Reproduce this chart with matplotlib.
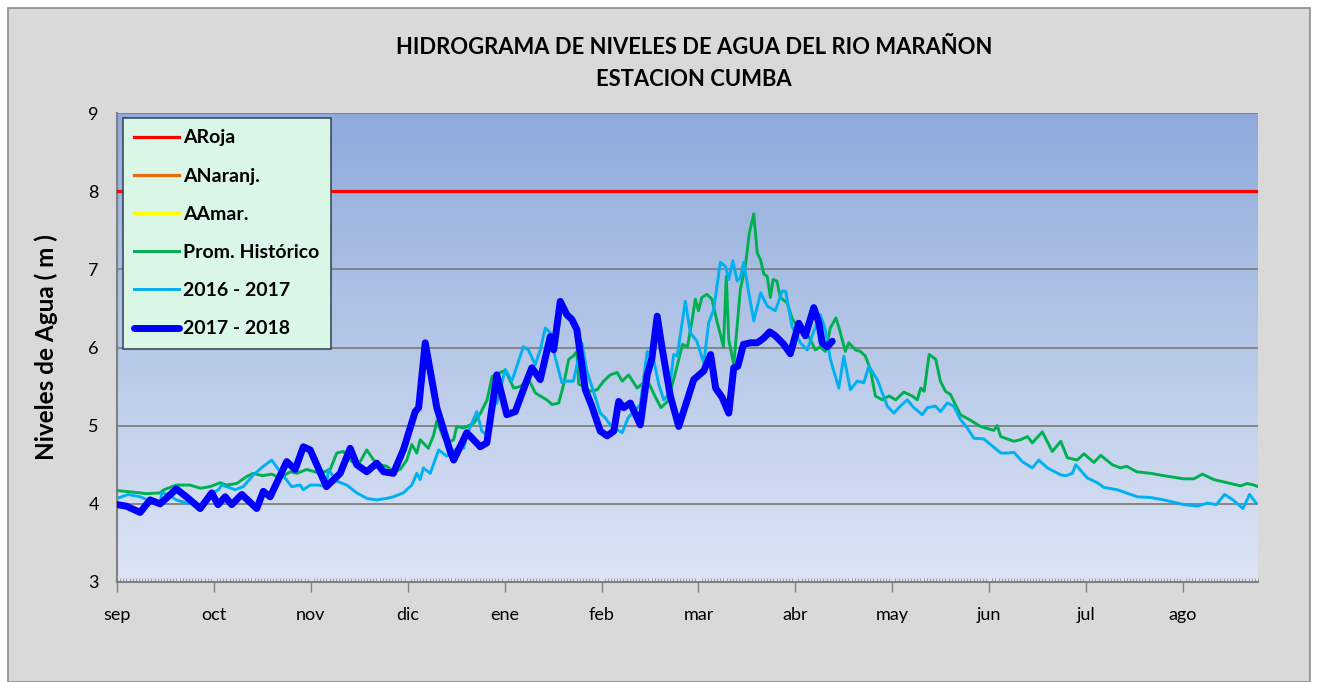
import numpy as np
import matplotlib
matplotlib.use('Agg')
import matplotlib.pyplot as plt
from matplotlib.patches import Rectangle

plt.rcParams['font.family'] = ['Lato', 'DejaVu Sans']

months = ['sep', 'oct', 'nov', 'dic', 'ene', 'feb', 'mar', 'abr', 'may', 'jun', 'jul', 'ago']
n_days = 365
aroja = 8.0

# Prom. Historico (day index, level)
prom_d = [0, 5, 9.5, 13.8, 15, 19, 23.4, 26.6, 29.8, 33, 35, 38.3, 41.5, 43.6, 46.5, 49.5, 52.2, 55.4,
          57.5, 60.7, 65, 68.2, 70.3, 72.4, 75.1, 77.5, 79.9, 82.1, 84.2, 86.3, 88.4, 90.6, 92.7, 94.3,
          95.9, 97, 99.6, 101.3, 102.3, 104.5, 106.6, 107.7, 108.7, 110.9, 114.1, 116.3, 118.4, 120,
          124.2, 126.9, 129, 131.7, 133.8, 135.4, 137.5, 139.2, 141.3, 142.9, 144.5, 146, 147.1, 147.7,
          149.5, 151.4, 153.6, 155.7, 157.8, 160, 161.6, 163.7, 166.4, 169.6, 171.8, 174, 176.1, 178.2,
          180.9, 182.5, 184.1, 185, 186, 187.1, 188.7, 190.3, 191.9, 194, 194.9, 195.7, 197.3, 199.4,
          201, 202.3, 203.7, 204.8, 205.9, 206.9, 208, 209, 209.9, 211.1, 212.2, 214.4, 215.9, 217.5,
          219.6, 221.8, 223.4, 225, 226.6, 228.2, 230, 231.4, 233, 234.1, 236.2, 237.8, 239.4, 241,
          242.6, 244.8, 247, 249.1, 251.7, 254.4, 256, 257.1, 258.2, 259.8, 261.9, 263.4, 265, 266.6,
          268.2, 269.8, 273, 276.2, 280.5, 281.6, 282.7, 286.9, 289, 291.3, 292.8, 296, 299.2, 301.9,
          304, 307.2, 309.3, 312.5, 314.7, 318.4, 321, 323, 326.2, 330.7, 334.9, 341.3, 344.5, 347.2,
          350.9, 355.2, 359.4, 361.6, 363.7, 365]
prom_v = [4.17, 4.15, 4.13, 4.14, 4.18, 4.24, 4.24, 4.20, 4.22, 4.27, 4.24, 4.26, 4.35, 4.39, 4.36, 4.38,
          4.33, 4.41, 4.39, 4.44, 4.39, 4.44, 4.65, 4.67, 4.54, 4.52, 4.69, 4.56, 4.50, 4.48, 4.41, 4.44,
          4.56, 4.76, 4.65, 4.82, 4.71, 4.88, 5.06, 4.84, 4.80, 4.82, 4.99, 4.97, 5.03, 5.16, 5.33, 5.63,
          5.71, 5.48, 5.50, 5.59, 5.42, 5.38, 5.33, 5.27, 5.29, 5.53, 5.85, 5.89, 5.95, 5.53, 5.50, 5.44,
          5.46, 5.57, 5.65, 5.68, 5.57, 5.65, 5.48, 5.59, 5.40, 5.23, 5.31, 5.61, 6.04, 6.01, 6.38, 6.62,
          6.47, 6.64, 6.68, 6.62, 6.34, 6.01, 6.91, 6.10, 5.78, 6.74, 7.04, 7.47, 7.71, 7.21, 7.12, 6.94,
          6.91, 6.64, 6.87, 6.85, 6.64, 6.57, 6.38, 6.27, 6.25, 6.10, 5.97, 6.01, 5.95, 6.25, 6.38, 6.19,
          5.95, 6.06, 5.97, 5.95, 5.89, 5.72, 5.38, 5.33, 5.38, 5.33, 5.43, 5.38, 5.33, 5.48, 5.44, 5.91,
          5.85, 5.57, 5.44, 5.40, 5.27, 5.14, 5.07, 4.99, 4.94, 5.00, 4.86, 4.80, 4.82, 4.86, 4.78, 4.92,
          4.67, 4.80, 4.59, 4.56, 4.64, 4.53, 4.62, 4.50, 4.46, 4.48, 4.41, 4.39, 4.36, 4.32, 4.32, 4.38,
          4.31, 4.27, 4.23, 4.26, 4.24, 4.22]

# 2016 - 2017
y1617_d = [0, 3.6, 7.4, 11, 13.8, 14.3, 16.4, 19, 22.3, 26, 28.7, 30.8, 32.4, 33.5, 35.1, 37.8, 40.4,
           43.6, 46.8, 49.5, 52.2, 55.9, 58.6, 59.6, 61.8, 64.5, 67.1, 67.6, 70.3, 73.5, 76.7, 79.9,
           83.1, 86.3, 88.4, 91.6, 94.3, 95.9, 97, 98, 100.2, 102.9, 105.5, 108.7, 110.9, 111.9, 115.1,
           116.7, 118.3, 119.9, 121.5, 124.2, 126.3, 130, 131.6, 133.8, 135.4, 137, 138.6, 140, 142.3,
           144, 146, 148.7, 150.3, 152.4, 154.6, 156.2, 157.8, 160, 161.6, 163.5, 165.3, 167.4, 169.6,
           171.8, 173.3, 174.9, 176.5, 178.1, 179.2, 181.8, 183.4, 185.5, 187.7, 189.3, 190.9, 193,
           194.6, 195.7, 197, 198.4, 199.4, 200.5, 202.1, 203.7, 205.9, 208, 210.6, 212.8, 213.9, 215.9,
           218.6, 220.8, 222.9, 225, 226.6, 228.2, 230.9, 232.5, 234.6, 236.8, 238.9, 240.5, 243.2,
           246.4, 248.5, 250.6, 252.8, 254.9, 257.6, 259.2, 261.8, 263.4, 265.6, 267.7, 269.8, 272,
           274.1, 277.3, 282.7, 285.3, 286.9, 289.6, 292.8, 294.9, 297.6, 301.9, 303.5, 305.6, 306.7,
           310.4, 313.6, 315.7, 320, 324.3, 326.4, 330.7, 334.9, 341.3, 345.6, 348.8, 351.7, 354.3, 357,
           360.2, 362.3, 364.4]
y1617_v = [4.07, 4.12, 4.09, 4.03, 4.01, 4.14, 4.12, 4.05, 4.01, 3.99, 4.01, 4.14, 4.18, 4.24, 4.22, 4.18,
           4.22, 4.37, 4.48, 4.56, 4.41, 4.22, 4.24, 4.18, 4.24, 4.24, 4.22, 4.44, 4.29, 4.24, 4.14, 4.07,
           4.05, 4.07, 4.09, 4.14, 4.24, 4.39, 4.31, 4.46, 4.39, 4.69, 4.61, 4.71, 4.71, 4.88, 5.18, 4.93,
           4.88, 5.23, 5.29, 5.72, 5.57, 6.01, 5.97, 5.78, 5.97, 6.25, 6.19, 5.90, 5.55, 5.57, 5.57, 6.06,
           5.70, 5.44, 5.16, 5.10, 5.01, 4.95, 4.91, 5.10, 5.18, 5.27, 5.95, 5.82, 5.53, 5.33, 5.40, 5.91,
           5.89, 6.59, 6.19, 6.08, 5.80, 6.32, 6.49, 7.09, 7.04, 6.87, 7.11, 6.85, 6.89, 7.09, 6.70, 6.34,
           6.70, 6.53, 6.47, 6.72, 6.72, 6.27, 6.06, 5.97, 6.21, 6.42, 6.23, 5.85, 5.48, 5.89, 5.46, 5.57,
           5.55, 5.76, 5.59, 5.25, 5.16, 5.25, 5.33, 5.23, 5.14, 5.23, 5.25, 5.18, 5.29, 5.25, 5.08, 4.97,
           4.84, 4.83, 4.65, 4.65, 4.66, 4.54, 4.46, 4.56, 4.46, 4.37, 4.36, 4.39, 4.50, 4.33, 4.27, 4.21,
           4.18, 4.12, 4.09, 4.08, 4.05, 3.99, 3.97, 4.01, 3.99, 4.12, 4.05, 3.94, 4.12, 4.01]

# 2017 - 2018
y1718_d = [0, 3, 7.4, 10.6, 13.8, 19, 22.8, 26.6, 30.3, 32.3, 34.6, 36.7, 39.9, 44.7, 46.8, 49, 54.3,
           57, 59.6, 61.8, 67, 71.4, 74.6, 76.7, 79.9, 83.1, 85.3, 88.4, 91.6, 95.4, 96.5, 98.6, 102.3,
           106.6, 107.7, 111.9, 116.2, 118.3, 121.5, 124.7, 127.4, 131.2, 132.7, 135.4, 138.6, 139.7,
           141.8, 143.9, 145.5, 147.1, 149.8, 151.9, 154.6, 156.8, 158.9, 160.5, 162.1, 164.2, 167.4,
           169.6, 171.1, 172.8, 174.3, 177, 179.7, 184.5, 187.7, 189.9, 191.5, 193.6, 195.7, 197.3,
           198.6, 200.4, 202.6, 204.8, 206.9, 208.8, 210.6, 213.3, 215.4, 218.1, 220.2, 222.9, 224.5,
           225.6, 227.2, 228.8]
y1718_v = [3.99, 3.97, 3.89, 4.05, 4.00, 4.19, 4.07, 3.94, 4.14, 3.99, 4.09, 3.99, 4.12, 3.94, 4.16, 4.09,
           4.54, 4.44, 4.73, 4.69, 4.22, 4.39, 4.71, 4.50, 4.41, 4.52, 4.41, 4.39, 4.69, 5.18, 5.23, 6.06,
           5.23, 4.67, 4.56, 4.91, 4.73, 4.78, 5.65, 5.14, 5.18, 5.59, 5.74, 5.59, 6.14, 5.97, 6.59, 6.42,
           6.36, 6.23, 5.46, 5.25, 4.93, 4.87, 4.93, 5.31, 5.23, 5.29, 5.01, 5.65, 5.86, 6.40, 6.01, 5.38,
           4.99, 5.59, 5.70, 5.91, 5.48, 5.36, 5.16, 5.74, 5.76, 6.04, 6.06, 6.06, 6.12, 6.20, 6.15, 6.04,
           5.92, 6.31, 6.15, 6.51, 6.32, 6.06, 6.01, 6.08]

W, H = 1317, 682
fig = plt.figure(figsize=(W / 100, H / 100), dpi=100, facecolor='white')
fig.patches.append(Rectangle((8 / W, 0), (1310 - 8) / W, (H - 8) / H, transform=fig.transFigure,
                             facecolor='#d9d9d9', edgecolor='#8c8c8c', linewidth=1.2, zorder=-10))

ax = fig.add_axes([117 / W, (H - 582) / H, (1258 - 117) / W, (582 - 113) / H])
ax.set_facecolor('none')

# gradient background of the plot area
grad = np.linspace(0, 1, 256).reshape(-1, 1)
top = np.array([142, 170, 219]) / 255
bot = np.array([221, 229, 245]) / 255
img = top + (bot - top) * grad[:, :, None] * np.ones((1, 1, 3))
ax.imshow(img, extent=[0, 1, 0, 1], transform=ax.transAxes, aspect='auto', zorder=0)

days = np.arange(n_days + 1)
ax.plot(days, np.full(len(days), aroja), color='#ff0000', lw=2.3, label='ARoja', zorder=3)
ax.plot([], [], color='#e46c0a', lw=2.3, label='ANaranj.')
ax.plot([], [], color='#ffff00', lw=2.3, label='AAmar.')
ax.plot(prom_d, prom_v, color='#00b050', lw=2.1, label='Prom. Histórico', zorder=4)
ax.plot(y1617_d, y1617_v, color='#00b0f0', lw=2.1, label='2016 - 2017', zorder=5)
ax.plot(y1718_d, y1718_v, color='#0000ff', lw=5, label='2017 - 2018', zorder=6,
        solid_joinstyle='round', solid_capstyle='round')

ax.set_xlim(0, n_days)
ax.set_ylim(3, 9)
ax.set_yticks(range(3, 10))
for lev in range(4, 10):
    ax.axhline(lev, color='#808080', lw=1.3, zorder=1)

ax.set_xticks(np.arange(0, 12) * 31)
ax.set_xticklabels(months)
ax.set_xticks(np.arange(0, n_days + 1), minor=True)
ax.tick_params(axis='x', which='major', direction='out', length=7, width=1, color='#808080',
               labelsize=13, pad=11)
ax.tick_params(axis='x', which='minor', direction='in', length=3, width=0.5, color='#808080')
ax.tick_params(axis='y', which='both', length=0, labelsize=13, pad=13)
for s in ['top', 'right']:
    ax.spines[s].set_visible(False)
for s in ['left', 'bottom']:
    ax.spines[s].set_color('#808080')
    ax.spines[s].set_linewidth(1.5)

ax.set_ylabel('Niveles de Agua ( m )', fontsize=17.5, fontweight='bold', labelpad=22)

fig.text(694 / W, 1 - 47 / H, 'HIDROGRAMA DE NIVELES DE AGUA DEL RIO MARAÑON', ha='center', va='center',
         fontsize=15.8, fontweight='bold')
fig.text(694 / W, 1 - 80 / H, 'ESTACION CUMBA', ha='center', va='center', fontsize=15.8, fontweight='bold')

leg = ax.legend(loc='upper left', bbox_to_anchor=(0.005, 0.99), frameon=True, fancybox=False,
                handlelength=2.3, labelspacing=1.09, borderpad=0.6, handletextpad=0.2,
                borderaxespad=0, prop={'weight': 'bold', 'size': 14})
leg.get_frame().set_facecolor('#d9f6e6')
leg.get_frame().set_edgecolor('#3f4a5a')
leg.get_frame().set_linewidth(1.2)
leg.get_frame().set_alpha(1)
leg.set_zorder(10)

fig.savefig('out.png', dpi=100, facecolor=fig.get_facecolor())
